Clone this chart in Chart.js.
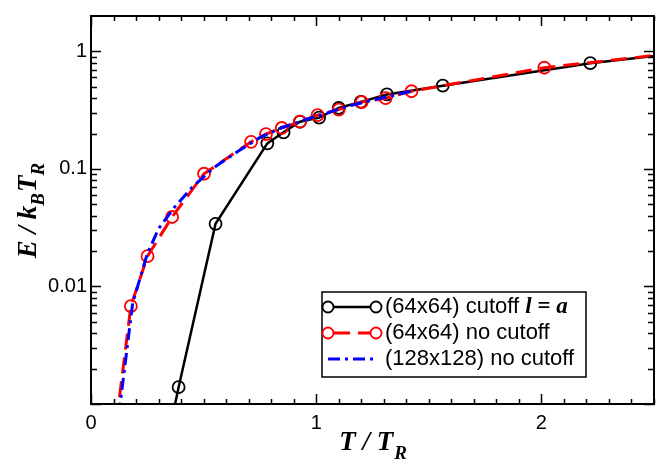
<!DOCTYPE html>
<html><head><meta charset="utf-8">
<script src="https://cdn.jsdelivr.net/npm/chart.js@4/dist/chart.umd.min.js"></script>
<style>html,body{margin:0;padding:0;background:#fff}#wrap{width:662px;height:464px}</style>
</head><body><div id="wrap"><canvas id="c" width="662" height="464"></canvas></div>
<script>
// ---- data ----
const seriesLabels = ['(64x64) cutoff ', '(64x64) no cutoff', '(128x128) no cutoff'];
const seriesLabelSuffix = ['l = a', '', ''];

const tCut = [0.33, 0.389, 0.553, 0.783, 0.855, 0.928, 1.013, 1.10, 1.198, 1.314, 1.562, 2.217, 2.8];
const eCut = [0.0004, 0.00139, 0.0341, 0.165, 0.205, 0.252, 0.273, 0.33, 0.372, 0.43, 0.511, 0.794, 1.06];

const tNo64 = [0.10, 0.177, 0.251, 0.36, 0.502, 0.711, 0.777, 0.847, 0.928, 1.006, 1.10, 1.202, 1.308, 1.423, 2.013, 2.8];
const eNo64 = [0.00045, 0.0068, 0.0181, 0.039, 0.091, 0.170, 0.198, 0.223, 0.253, 0.287, 0.32, 0.371, 0.40, 0.458, 0.726, 1.07];

const tNo128 = [0.11, 0.185, 0.25, 0.30, 0.37, 0.45, 0.55, 0.65, 0.75, 0.85, 0.95, 1.05, 1.15, 1.25, 1.35, 1.42];
const eNo128 = [0.0005, 0.0072, 0.019, 0.031, 0.047, 0.070, 0.104, 0.140, 0.185, 0.225, 0.262, 0.300, 0.345, 0.385, 0.425, 0.458];

const xTickValues = [0, 1, 2];
const xTickLabels = ['0', '1', '2'];
const yTickValues = [0.01, 0.1, 1];
const yTickLabels = ['0.01', '0.1', '1'];
const xRange = [0, 2.5];
const yRange = [0.001, 2];

const pts = (xs, ys) => xs.map((x, i) => ({x: x, y: ys[i]}));

const SANS = '"Liberation Sans", Arial, sans-serif';
const SERIF = '"Liberation Serif", "Times New Roman", serif';

const decorPlugin = {
  id: 'decor',
  afterDraw(chart) {
    const ctx = chart.ctx, a = chart.chartArea;
    const xs = chart.scales.x, ys = chart.scales.y;
    ctx.save();
    ctx.strokeStyle = '#000';
    // inward ticks
    ctx.lineWidth = 1.5;
    for (let i = 0; i <= 25; i++) {
      const v = i / 10;
      const px = Math.round(xs.getPixelForValue(v)) + 0.5;
      const len = (i % 10 === 0) ? 10 : 5;
      ctx.beginPath();
      ctx.moveTo(px, a.bottom); ctx.lineTo(px, a.bottom - len);
      ctx.moveTo(px, a.top); ctx.lineTo(px, a.top + len);
      ctx.stroke();
    }
    for (let d = -3; d <= 0; d++) {
      for (let k = 1; k <= 9; k++) {
        const v = k * Math.pow(10, d);
        if (v > yRange[1] * 0.999) continue;
        const py = Math.round(ys.getPixelForValue(v)) + 0.5;
        const len = (k === 1) ? 10 : 6;
        ctx.beginPath();
        ctx.moveTo(a.left, py); ctx.lineTo(a.left + len, py);
        ctx.moveTo(a.right, py); ctx.lineTo(a.right - len, py);
        ctx.stroke();
      }
    }
    // frame
    ctx.lineWidth = 2;
    ctx.strokeRect(a.left, a.top, a.right - a.left, a.bottom - a.top);

    // x title: T / T_R
    ctx.fillStyle = '#000';
    const mainF = 'bold italic 27px ' + SERIF;
    const subF = 'bold italic 19px ' + SERIF;
    ctx.font = mainF;
    const w1 = ctx.measureText('T / T').width;
    ctx.font = subF;
    const w2 = ctx.measureText('R').width;
    const cx = (a.left + a.right) / 2;
    let x0 = cx - (w1 + w2) / 2;
    ctx.textBaseline = 'alphabetic';
    ctx.textAlign = 'left';
    ctx.font = mainF; ctx.fillText('T / T', x0, 450);
    ctx.font = subF; ctx.fillText('R', x0 + w1 + 1, 459);

    // y title: E / k_B T_R (rotated)
    const parts = [['E / k', mainF, 0], ['B', subF, 8], ['T', mainF, 0], ['R', subF, 8]];
    let tw = 0;
    parts.forEach(p => { ctx.font = p[1]; tw += ctx.measureText(p[0]).width + (p[1] === subF ? 1 : 0); });
    ctx.save();
    ctx.translate(36, (a.top + a.bottom) / 2);
    ctx.rotate(-Math.PI / 2);
    let xx = -tw / 2;
    parts.forEach(p => {
      ctx.font = p[1];
      ctx.fillText(p[0], xx, p[2]);
      xx += ctx.measureText(p[0]).width + (p[1] === subF ? 1 : 0);
    });
    ctx.restore();

    // legend
    const bx = 322, by = 292, bw = 264, bh = 85;
    ctx.fillStyle = '#fff';
    ctx.fillRect(bx, by, bw, bh);
    ctx.lineWidth = 1.5;
    ctx.strokeStyle = '#000';
    ctx.strokeRect(bx, by, bw, bh);
    const rows = [307, 333, 359];
    chart.data.datasets.forEach((ds, i) => {
      const y = rows[i];
      ctx.save();
      ctx.strokeStyle = ds.borderColor;
      ctx.lineWidth = ds.borderWidth;
      ctx.setLineDash(ds.borderDash || []);
      ctx.beginPath();
      const l0 = ds.pointRadius > 0 ? 334 : 328;
      const l1 = ds.pointRadius > 0 ? 370 : 378;
      ctx.moveTo(l0, y); ctx.lineTo(l1, y); ctx.stroke();
      ctx.setLineDash([]);
      if (ds.pointRadius > 0) {
        ctx.lineWidth = ds.pointBorderWidth;
        [328, 376].forEach(px => { ctx.beginPath(); ctx.arc(px, y, 5.5, 0, Math.PI * 2); ctx.stroke(); });
      }
      ctx.restore();
      ctx.fillStyle = '#000';
      ctx.textBaseline = 'middle';
      ctx.font = '22px ' + SANS;
      ctx.fillText(ds.label, 385, y);
      if (seriesLabelSuffix[i]) {
        const w = ctx.measureText(ds.label).width;
        ctx.font = 'bold italic 23px ' + SERIF;
        ctx.fillText(seriesLabelSuffix[i], 385 + w, y);
      }
    });
    ctx.restore();
  }
};

new Chart(document.getElementById('c'), {
  type: 'line',
  data: {
    datasets: [
      {
        label: seriesLabels[0], data: pts(tCut, eCut),
        borderColor: '#000000', borderWidth: 2.5,
        pointRadius: 6, pointBorderWidth: 1.8, pointBorderColor: '#000000',
        pointBackgroundColor: 'rgba(0,0,0,0)', fill: false, tension: 0, order: 2, clip: 0
      },
      {
        label: seriesLabels[1], data: pts(tNo64, eNo64),
        borderColor: '#ff0000', borderWidth: 3, borderDash: [16, 8],
        pointRadius: 6, pointBorderWidth: 1.8, pointBorderColor: '#ff0000',
        pointBackgroundColor: 'rgba(0,0,0,0)', fill: false, tension: 0, order: 1, clip: 0
      },
      {
        label: seriesLabels[2], data: pts(tNo128, eNo128),
        borderColor: '#0000ff', borderWidth: 3, borderDash: [12, 5, 3, 5],
        pointRadius: 0, pointBorderWidth: 0, fill: false, tension: 0, order: 0, clip: 0
      }
    ]
  },
  options: {
    responsive: false,
    animation: false,
    devicePixelRatio: 1,
    layout: { padding: { top: 10, right: 8, left: 0, bottom: 0 } },
    plugins: { legend: { display: false }, tooltip: { enabled: false } },
    scales: {
      x: {
        type: 'linear', min: xRange[0], max: xRange[1],
        grid: { display: false, drawTicks: false }, border: { display: false },
        afterBuildTicks: s => { s.ticks = xTickValues.map(v => ({value: v})); },
        afterFit: s => { s.height = 60; },
        ticks: {
          padding: 7, color: '#000', font: { family: SANS, size: 20 },
          maxRotation: 0, autoSkip: false,
          callback: (v) => { const i = xTickValues.indexOf(v); return i >= 0 ? xTickLabels[i] : ''; }
        }
      },
      y: {
        type: 'logarithmic', min: yRange[0], max: yRange[1],
        grid: { display: false, drawTicks: false }, border: { display: false },
        afterBuildTicks: s => { s.ticks = yTickValues.map(v => ({value: v})); },
        afterFit: s => { s.width = 91; },
        ticks: {
          padding: 4, color: '#000', font: { family: SANS, size: 20 }, autoSkip: false,
          callback: (v) => { const i = yTickValues.findIndex(t => Math.abs(t - v) < t * 1e-6); return i >= 0 ? yTickLabels[i] : ''; }
        }
      }
    }
  },
  plugins: [decorPlugin]
});
</script></body></html>
